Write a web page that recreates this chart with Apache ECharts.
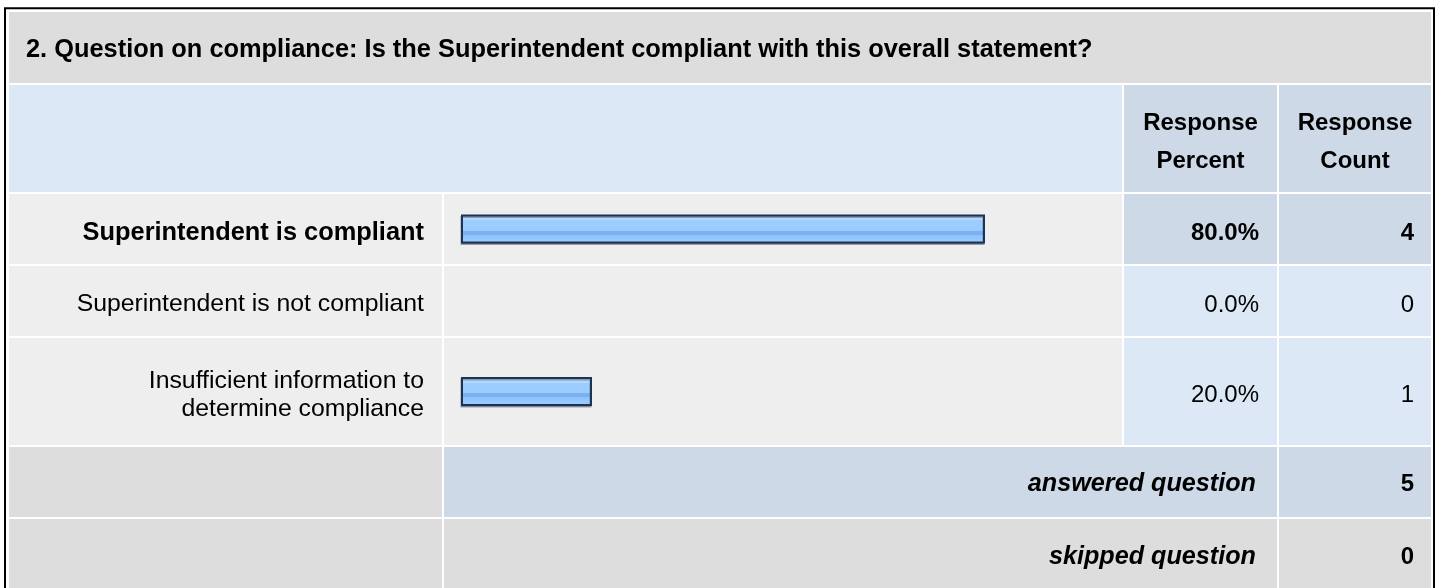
<!DOCTYPE html>
<html><head><meta charset="utf-8">
<script src="https://cdn.jsdelivr.net/npm/echarts@6/dist/echarts.min.js"></script>
<style>html,body{margin:0;padding:0;background:#fff}#c{width:1437px;height:588px}</style>
</head><body><div id="c"></div>
<script>
// ---------- data ----------
const titleText = '2. Question on compliance: Is the Superintendent compliant with this overall statement?';
const headerLabels = ['Response Percent', 'Response Count'];
const categories = ['Superintendent is compliant', 'Superintendent is not compliant', 'Insufficient information to determine compliance'];
const responsePercent = [80.0, 0.0, 20.0];
const responseCount = [4, 0, 1];
const summaryLabels = ['answered question', 'skipped question'];
const summaryCounts = [5, 0];

// ---------- layout / style ----------
const FONT = '"Liberation Sans", Arial, Helvetica, sans-serif';
const FS_NUM = 24, FS_TITLE = 25.4, FS_LBL_B = 25.4, FS_LBL = 24.8, FS_SUM = 25.2;
const WRAP_CHARS = 32;
const colX = [[9, 442], [444, 1122], [1124, 1277], [1279, 1431]];
const rowY = [[12, 83], [85, 192], [194, 264], [266, 336], [338, 445], [447, 517], [519, 592]];
const COL = { gray: '#dddddd', light: '#eeeeee', blue: '#dce8f5', blue2: '#cdd9e6' };
const barLeft = 461, barFull = 655;
const labelRight = 424, pctRight = 1259, cntRight = 1414;
const maxVal = Math.max.apply(null, responsePercent);

function wrap(s) {
  const words = s.split(' '); const lines = []; let cur = '';
  words.forEach(function (w) {
    if (cur && (cur + ' ' + w).length > WRAP_CHARS) { lines.push(cur); cur = w; }
    else cur = cur ? cur + ' ' + w : w;
  });
  if (cur) lines.push(cur);
  return lines;
}

const g = [];
function cell(x0, x1, y0, y1, fill) {
  g.push({ type: 'rect', z: 0, shape: { x: x0, y: y0, width: x1 - x0, height: y1 - y0 }, style: { fill: fill } });
}
function txt(s, x, y, align, opt) {
  opt = opt || {};
  g.push({ type: 'text', z: 5, x: x, y: y, style: Object.assign({
    text: s, align: align, verticalAlign: 'middle', fill: '#000',
    fontSize: FS_NUM, fontFamily: FONT, fontWeight: 'normal'
  }, opt) });
}
const mid = r => (rowY[r][0] + rowY[r][1]) / 2;

// outer frame
g.push({ type: 'rect', z: 1, shape: { x: 5, y: 8.3, width: 1429, height: 600 }, style: { fill: null, stroke: '#000', lineWidth: 2 } });
// title row
cell(colX[0][0], colX[3][1], rowY[0][0], rowY[0][1], COL.gray);
txt(titleText, 26, mid(0) + 2, 'left', { fontWeight: 'bold', fontSize: FS_TITLE });
// header row
cell(colX[0][0], colX[1][1], rowY[1][0], rowY[1][1], COL.blue);
cell(colX[2][0], colX[2][1], rowY[1][0], rowY[1][1], COL.blue2);
cell(colX[3][0], colX[3][1], rowY[1][0], rowY[1][1], COL.blue2);
txt(headerLabels[0].replace(' ', '\n'), (colX[2][0] + colX[2][1]) / 2, mid(1) + 4, 'center', { fontWeight: 'bold', lineHeight: 38 });
txt(headerLabels[1].replace(' ', '\n'), (colX[3][0] + colX[3][1]) / 2, mid(1) + 4, 'center', { fontWeight: 'bold', lineHeight: 38 });
// data rows
categories.forEach(function (c, i) {
  const r = 2 + i;
  const top = responsePercent[i] === maxVal;
  cell(colX[0][0], colX[0][1], rowY[r][0], rowY[r][1], COL.light);
  cell(colX[1][0], colX[1][1], rowY[r][0], rowY[r][1], COL.light);
  cell(colX[2][0], colX[2][1], rowY[r][0], rowY[r][1], top ? COL.blue2 : COL.blue);
  cell(colX[3][0], colX[3][1], rowY[r][0], rowY[r][1], top ? COL.blue2 : COL.blue);
  const fw = top ? 'bold' : 'normal';
  txt(responsePercent[i].toFixed(1) + '%', pctRight, mid(r) + 4, 'right', { fontWeight: fw });
  txt(String(responseCount[i]), cntRight, mid(r) + 4, 'right', { fontWeight: fw });
});
// summary rows
summaryLabels.forEach(function (s, k) {
  const r = 5 + k;
  const f = k === 0 ? COL.blue2 : COL.gray;
  cell(colX[0][0], colX[0][1], rowY[r][0], rowY[r][1], COL.gray);
  cell(colX[1][0], colX[2][1], rowY[r][0], rowY[r][1], f);
  cell(colX[3][0], colX[3][1], rowY[r][0], rowY[r][1], f);
  txt(s, pctRight - 3, mid(r) + 2, 'right', { fontWeight: 'bold', fontStyle: 'italic', fontSize: FS_SUM });
  txt(String(summaryCounts[k]), cntRight, mid(r) + 2, 'right', { fontWeight: 'bold' });
});

// ---------- chart (one grid per answer row) ----------
const barGradient = {
  type: 'linear', x: 0, y: 0, x2: 0, y2: 1,
  colorStops: [
    { offset: 0.0, color: '#d4ebff' }, { offset: 0.12, color: '#d4ebff' },
    { offset: 0.12, color: '#b3d9ff' }, { offset: 0.2, color: '#b3d9ff' },
    { offset: 0.2, color: '#9dcdff' }, { offset: 0.56, color: '#9ccbff' },
    { offset: 0.56, color: '#7bb0f2' }, { offset: 0.7, color: '#7bb0f2' },
    { offset: 0.7, color: '#8dc2fe' }, { offset: 1, color: '#9fcfff' }
  ]
};
const grids = [], xAxes = [], yAxes = [], series = [];
categories.forEach(function (c, i) {
  const r = 2 + i;
  const top = responsePercent[i] === maxVal;
  grids.push({ left: barLeft, width: barFull, top: rowY[r][0], height: rowY[r][1] - rowY[r][0] });
  xAxes.push({ gridIndex: i, type: 'value', min: 0, max: 100, show: false });
  yAxes.push({
    gridIndex: i, type: 'category', data: [c],
    axisLine: { show: false }, axisTick: { show: false }, splitLine: { show: false },
    axisLabel: {
      margin: barLeft - labelRight, align: 'right',
      fontSize: top ? FS_LBL_B : FS_LBL, fontFamily: FONT, color: '#000', lineHeight: 28.5,
      fontWeight: top ? 'bold' : 'normal',
      formatter: function (v) { return wrap(v).map(function (l) { return '{l|' + l + '}'; }).join('\n'); },
      rich: { l: {
        fontSize: top ? FS_LBL_B : FS_LBL, fontFamily: FONT, color: '#000', lineHeight: 28.5,
        fontWeight: top ? 'bold' : 'normal', padding: [7, 0, 0, 0]
      } }
    }
  });
  const v = responsePercent[i];
  series.push({
    type: 'bar', xAxisIndex: i, yAxisIndex: i, barWidth: 29, z: 3, silent: true,
    data: [{ value: v, itemStyle: v === 0 ? { opacity: 0 } : {} }],
    itemStyle: {
      color: barGradient, borderColor: '#1c3353', borderWidth: 2,
      shadowColor: 'rgba(40,60,90,0.45)', shadowOffsetY: 1.5, shadowOffsetX: -0.5, shadowBlur: 0
    }
  });
});

const chart = echarts.init(document.getElementById('c'), null, { renderer: 'canvas' });
chart.setOption({
  animation: false,
  backgroundColor: '#ffffff',
  grid: grids, xAxis: xAxes, yAxis: yAxes, series: series,
  graphic: { elements: g }
});
</script></body></html>
